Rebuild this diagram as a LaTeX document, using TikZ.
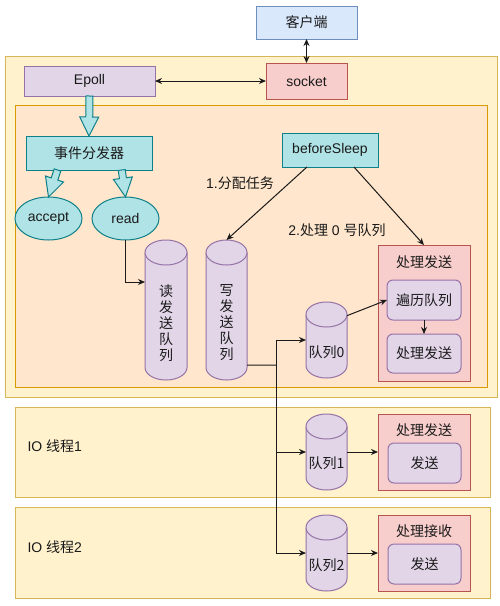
\documentclass[tikz,border=0pt]{standalone}
\usepackage{fontspec}
\setmainfont{Liberation Sans}
\newfontfamily\cjk{Noto Sans CJK SC}
\usetikzlibrary{arrows.meta,calc,fit,shapes.geometric}
\definecolor{ylwF}{HTML}{FFF2CC}\definecolor{ylwD}{HTML}{D6B656}
\definecolor{orgF}{HTML}{FFE6CC}\definecolor{orgD}{HTML}{D79B00}
\definecolor{purF}{HTML}{E1D5E7}\definecolor{purD}{HTML}{9673A6}
\definecolor{redF}{HTML}{F8CECC}\definecolor{redD}{HTML}{B85450}
\definecolor{bluF}{HTML}{DAE8FC}\definecolor{bluD}{HTML}{6C8EBF}
\definecolor{tealF}{HTML}{B0E3E6}\definecolor{tealD}{HTML}{0E8088}
\definecolor{ink}{HTML}{1A1A1A}
\def\cylry{12.5pt}
\newcommand\cylshape[5]{%
  \node[fit={(#2,#3) (#4,#5)}, inner sep=0pt, outer sep=0pt] (#1) {};
  \filldraw[cyl] ([yshift=-\cylry]#1.north west) -- ([yshift=\cylry]#1.south west)
    arc[start angle=180,end angle=360,x radius={(#4-#2)/2*1pt},y radius=\cylry]
    -- ([yshift=-\cylry]#1.north east)
    arc[start angle=0,end angle=180,x radius={(#4-#2)/2*1pt},y radius=\cylry] -- cycle;
  \draw[cyl] ([yshift=-\cylry]#1.north west)
    arc[start angle=180,end angle=360,x radius={(#4-#2)/2*1pt},y radius=\cylry];
}
\newcommand\flexarr[3]{%
  \coordinate (#3h) at ($(#2)!19pt!(#1)$);
  \filldraw[flex] ($(#1)!3.5pt!90:(#2)$) -- ($(#3h)!3.5pt!90:(#2)$) -- ($(#3h)!9.5pt!90:(#2)$)
    -- (#2) -- ($(#3h)!9.5pt!-90:(#2)$) -- ($(#3h)!3.5pt!-90:(#2)$) -- ($(#1)!3.5pt!-90:(#2)$) -- cycle;
}
\begin{document}
\begin{tikzpicture}[x=1pt,y=-1pt,line width=1pt,
  en/.style={font=\fontsize{14}{16}\selectfont, text=ink},
  zh/.style={font=\cjk\fontsize{14}{16}\selectfont, text=ink},
  area/.style={draw=#1D, fill=#1F, inner sep=0pt, outer sep=0pt},
  box/.style={draw=#1D, fill=#1F, inner sep=0pt, outer sep=0pt},
  rbox/.style={draw=#1D, fill=#1F, inner sep=0pt, outer sep=0pt, rounded corners=6pt},
  ell/.style={ellipse, draw=tealD, fill=tealF, inner sep=0pt, outer sep=0pt},
  cyl/.style={draw=purD, fill=purF},
  flex/.style={draw=tealD, fill=tealF, line join=miter},
  conn/.style={draw=ink, line width=1pt},
  >={Stealth[length=7pt,width=6pt]}]
\useasboundingbox (0,0) rectangle (500,606);
\fill[white] (0,0) rectangle (500,606);
% containers
\node[area=ylw, fit={(5,56) (497,397)}] (outer) {};
\node[area=org, fit={(15,105) (487,387)}] (inner) {};
\node[area=ylw, fit={(15,407) (490,497)}] (io1box) {};
\node[area=ylw, fit={(15,507) (490,598)}] (io2box) {};
% top
\node[box=blu, zh, minimum width=101pt, minimum height=33pt] (client) at (306.5,22.5) {客户端};
\node[box=red, en, minimum width=81pt, minimum height=36pt] (socket) at (306.5,81) {socket};
\node[box=pur, en, minimum width=131pt, minimum height=30pt] (epoll) at (89.5,81) {Epoll};
% dispatcher
\node[box=teal, zh, minimum width=126pt, minimum height=34pt] (disp) at (89,153) {事件分发器};
\node[ell, en, minimum width=67pt, minimum height=43pt] (acc) at (48.5,218.5) {accept};
\node[ell, en, minimum width=67pt, minimum height=43pt] (read) at (125.5,218.5) {read};
\node[box=teal, en, minimum width=96pt, minimum height=34pt] (bs) at (330,150) {beforeSleep};
% queues
\cylshape{rq}{145}{240}{187}{380}
\cylshape{wq}{206}{240}{247}{380}
\node[zh, align=center] (rqt) at (166,323) {读\\发\\送\\队\\列};
\node[zh, align=center] (wqt) at (226.5,323) {写\\发\\送\\队\\列};
\cylshape{q0}{306}{302}{347}{378}
\node[zh] (q0t) at (326.5,352) {队列0};
\cylshape{q1}{306}{414}{347}{490}
\node[zh] (q1t) at (326.5,463) {队列1};
\cylshape{q2}{306}{515}{347}{591}
\node[zh] (q2t) at (326.5,565) {队列2};
% red process boxes
\node[box=red, minimum width=92pt, minimum height=136pt] (rb0) at (424,313) {};
\node[zh] (rb0t) at (424,262) {处理发送};
\node[rbox=pur, zh, minimum width=74pt, minimum height=40pt] (bl) at (424,300) {遍历队列};
\node[rbox=pur, zh, minimum width=74pt, minimum height=39pt] (cl) at (424,353.5) {处理发送};
\node[box=red, minimum width=92pt, minimum height=76pt] (rb1) at (424,452) {};
\node[zh] (rb1t) at (424,430) {处理发送};
\node[rbox=pur, zh, minimum width=73pt, minimum height=40pt] (s1) at (424.5,463) {发送};
\node[box=red, minimum width=92pt, minimum height=76pt] (rb2) at (424,553) {};
\node[zh] (rb2t) at (424,531) {处理接收};
\node[rbox=pur, zh, minimum width=73pt, minimum height=40pt] (s2) at (424.5,564) {发送};
% IO labels
\node[en, anchor=west, inner sep=0pt] (io1) at (27,446) {IO {\cjk 线程}1};
\node[en, anchor=west, inner sep=0pt] (io2) at (27,547) {IO {\cjk 线程}2};
% edge labels
\node[en] (l1) at (240,183) {1.{\cjk 分配任务}};
\node[en] (l2) at (337,230) {2.{\cjk 处理} 0 {\cjk 号队列}};
% flex arrows
\flexarr{epoll.south}{disp.north}{fa}
\coordinate (dl) at ($(disp.south west)!0.25!(disp.south east)$);
\coordinate (dr) at ($(disp.south west)!0.76!(disp.south east)$);
\flexarr{dl}{acc.north}{fb}
\flexarr{dr}{read.north}{fc}
% connectors
\draw[conn,<->] (epoll.east) -- (socket.west);
\draw[conn,<->] (client.south) -- (socket.north);
\draw[conn,->] (read.south) |- ($(rq.north west)!0.3!(rq.south west)$);
\draw[conn,->] ($(bs.south west)!0.26!(bs.south east)$) -- (wq.north);
\draw[conn,->] ($(bs.south west)!0.75!(bs.south east)$) -- (rb0.north);
\coordinate (bus) at (276,365);
\draw[conn] ($(wq.north east)!0.893!(wq.south east)$) -- (bus);
\draw[conn,->] (bus) |- (q0.west);
\draw[conn,->] (bus) |- (q1.west);
\draw[conn,->] (bus) |- (q2.west);
\draw[conn,->] ($(q0.north east)!0.18!(q0.south east)$) -- (bl.west);
\draw[conn,->] (bl.south) -- (cl.north);
\draw[conn,->] (q1.east) -- (rb1.west);
\draw[conn,->] (q2.east) -- (rb2.west);
\end{tikzpicture}
\end{document}
